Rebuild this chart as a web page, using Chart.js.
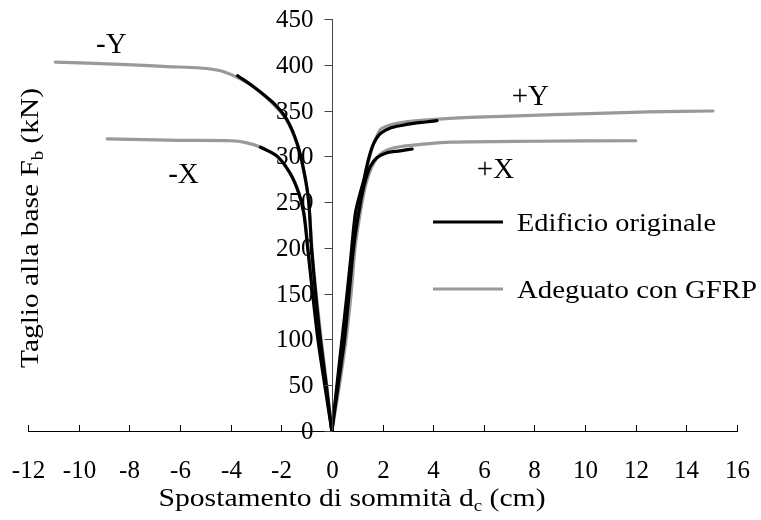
<!DOCTYPE html>
<html><head><meta charset="utf-8">
<script src="https://cdn.jsdelivr.net/npm/chart.js@4"></script>
<style>html,body{margin:0;padding:0;background:#fff}#wrap{width:761px;height:520px}</style>
</head><body><div id="wrap"><canvas id="c" width="761" height="520"></canvas></div>
<script>
// Edificio originale (black)
const origPosY = [[0,0],[0.2,50],[0.4,100],[0.6,150],[0.75,190],[0.93,238],[1.1,258],[1.26,274],[1.42,294],[1.59,310],[1.75,319],[1.92,325],[2.31,331],[2.8,334],[3.23,336],[3.7,337.5],[4.15,339]];
const origPosX = [[0,0],[0.25,50],[0.5,100],[0.68,150],[0.86,201],[1.06,238],[1.26,267],[1.52,289],[1.8,299],[2.18,304],[2.7,306],[3.17,308]];
const origNegY = [[0,0],[-0.22,50],[-0.45,100],[-0.64,150],[-0.8,200],[-0.92,252],[-1.11,285],[-1.37,314],[-1.77,340],[-2.3,358],[-3.09,376],[-3.72,388]];
const origNegX = [[0,0],[-0.28,50],[-0.55,100],[-0.76,150],[-0.96,201],[-1.11,238],[-1.31,260],[-1.64,281],[-2.16,300],[-2.82,310]];
// Adeguato con GFRP (grey)
const gfrpPosY = [[0,0],[0.22,50],[0.43,100],[0.63,150],[0.78,190],[0.95,238],[1.12,258],[1.28,274],[1.44,294],[1.6,310],[1.76,321],[1.95,330],[2.4,335],[3.0,338],[4.68,341.5],[7,344],[10.5,347],[12.5,348.5],[15.05,349.5]];
const gfrpPosX = [[0,0],[0.3,50],[0.56,100],[0.76,150],[0.92,201],[1.12,238],[1.32,267],[1.6,290],[1.9,302],[2.3,308],[2.8,311],[3.5,313],[4.68,315.5],[8,316.5],[12,317]];
const gfrpNegY = [[0,0],[-0.2,50],[-0.42,100],[-0.62,150],[-0.79,200],[-0.92,252],[-1.12,285],[-1.38,314],[-1.8,340],[-2.35,358],[-3.1,376],[-3.8,387],[-4.4,393.5],[-5.2,396.5],[-6.5,398],[-8.35,400.5],[-10.92,403]];
const gfrpNegX = [[0,0],[-0.26,50],[-0.52,100],[-0.73,150],[-0.94,201],[-1.1,238],[-1.3,260],[-1.63,281],[-2.14,300],[-2.8,310],[-3.4,315],[-4.0,317],[-6,317.5],[-8.87,319]];

const xTicks = [-12,-10,-8,-6,-4,-2,0,2,4,6,8,10,12,14,16];
const yTicks = [0,50,100,150,200,250,300,350,400,450];
const seriesNames = ['Edificio originale','Adeguato con GFRP'];
const curveLabels = [['-Y',-8.71,412.8],['-X',-5.86,270.9],['+Y',7.84,356],['+X',6.46,276.3]];

const FONT = "'Liberation Serif', serif";
const BLACK = '#000000', GREY = '#999999';
const toPts = a => a.map(p => ({x:p[0], y:p[1]}));
function ds(name, arr, color, order){
  return {label:name, data:toPts(arr), borderColor:color, backgroundColor:color, borderWidth:3.2,
    pointRadius:0, tension:0.3, fill:false, order:order, borderCapStyle:'round', borderJoinStyle:'round'};
}
const datasets = [
  ds(seriesNames[0], origPosY, BLACK, 0), ds(seriesNames[0], origPosX, BLACK, 0),
  ds(seriesNames[0], origNegY, BLACK, 0), ds(seriesNames[0], origNegX, BLACK, 0),
  ds(seriesNames[1], gfrpPosY, GREY, 1), ds(seriesNames[1], gfrpPosX, GREY, 1),
  ds(seriesNames[1], gfrpNegY, GREY, 1), ds(seriesNames[1], gfrpNegX, GREY, 1)
];

// draw text with optional subscript parts, stretched horizontally to a target width
function drawRich(ctx, parts, x, y, size, targetW, align){
  const sub = Math.round(size*0.62);
  let w = 0;
  parts.forEach(p => { ctx.font = (p[1]?sub:size) + 'px ' + FONT; w += ctx.measureText(p[0]).width; });
  const sx = targetW ? targetW / w : 1;
  ctx.save();
  ctx.translate(x, y);
  ctx.scale(sx, 1);
  let cx = align === 'center' ? -w/2 : 0;
  ctx.textBaseline = 'alphabetic'; ctx.textAlign = 'left';
  parts.forEach(p => {
    ctx.font = (p[1]?sub:size) + 'px ' + FONT;
    ctx.fillText(p[0], cx, p[1] ? size*0.2 : 0);
    cx += ctx.measureText(p[0]).width;
  });
  ctx.restore();
}

const custom = {
  id:'custom',
  afterDraw(chart){
    const ctx = chart.ctx, xs = chart.scales.x, ys = chart.scales.y;
    ctx.save();
    // x ticks pointing up, and x tick labels
    ctx.strokeStyle = '#000'; ctx.lineWidth = 1; ctx.fillStyle = '#000';
    ctx.font = '25px ' + FONT; ctx.textAlign = 'center'; ctx.textBaseline = 'middle';
    xTicks.forEach(v => {
      const px = Math.round(xs.getPixelForValue(v)) + 0.5;
      ctx.beginPath(); ctx.moveTo(px, ys.bottom); ctx.lineTo(px, ys.bottom - 6); ctx.stroke();
      ctx.fillText(String(v), px, ys.bottom + 40);
    });
    // y ticks and labels at x = 0
    const ax = Math.round(xs.getPixelForValue(0)) + 0.5;
    ctx.strokeStyle = '#444';
    ctx.beginPath(); ctx.moveTo(ax, ys.top); ctx.lineTo(ax, ys.bottom); ctx.stroke();
    ctx.textAlign = 'right';
    yTicks.forEach(v => {
      const py = Math.round(ys.getPixelForValue(v)) + 0.5;
      ctx.beginPath(); ctx.moveTo(ax - 8, py); ctx.lineTo(ax, py); ctx.stroke();
      ctx.fillText(String(v), ax - 19, py + 1);
    });
    // curve labels
    curveLabels.forEach(l => drawRich(ctx, [[l[0],0]], xs.getPixelForValue(l[1]), ys.getPixelForValue(l[2]), 29, 0, 'center'));
    // legend
    const lg = [[BLACK, seriesNames[0], 222, 231, 199],[GREY, seriesNames[1], 289, 298, 240]];
    lg.forEach(e => {
      ctx.strokeStyle = e[0]; ctx.lineWidth = 3.2;
      ctx.beginPath(); ctx.moveTo(433, e[2]); ctx.lineTo(503, e[2]); ctx.stroke();
      drawRich(ctx, [[e[1],0]], 517, e[3], 26, e[4], 'left');
    });
    // x title
    drawRich(ctx, [['Spostamento di sommità d',0],['c',1],[' (cm)',0]], 352, 506, 25, 387, 'center');
    // y title
    ctx.translate(38, 228); ctx.rotate(-Math.PI/2);
    drawRich(ctx, [['Taglio alla base F',0],['b',1],[' (kN)',0]], 0, 0, 25, 280, 'center');
    ctx.restore();
  }
};

new Chart(document.getElementById('c'), {
  type:'line',
  data:{datasets},
  options:{
    responsive:false, animation:false, devicePixelRatio:1,
    layout:{padding:{left:28, right:24, top:19, bottom:0}},
    plugins:{legend:{display:false}, tooltip:{enabled:false}},
    scales:{
      x:{type:'linear', position:'bottom', min:-12, max:16,
        afterBuildTicks: s => { s.ticks = xTicks.map(v => ({value:v})); },
        afterFit: s => { s.height = 89; },
        border:{display:true, color:'#000', width:1},
        grid:{display:false},
        ticks:{display:false}},
      y:{type:'linear', position:{x:0}, min:0, max:450,
        afterBuildTicks: s => { s.ticks = yTicks.map(v => ({value:v})); },
        border:{display:false},
        grid:{display:false},
        ticks:{display:false}}
    }
  },
  plugins:[custom]
});
</script></body></html>
